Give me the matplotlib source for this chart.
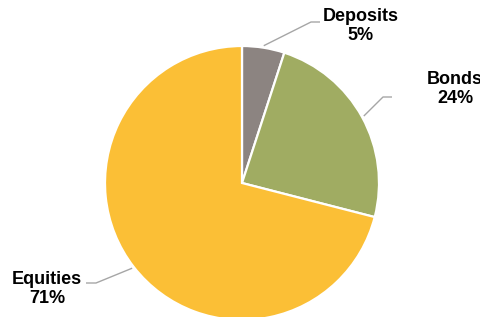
import numpy as np
from matplotlib import pyplot

categories = ['Deposits', 'Bonds', 'Equities']
shares = [5, 24, 71]
colors = ['#8C8481', '#A0AC62', '#FBBF36']

W, H = 480, 317
CENTER = (242, 134)
RADIUS = 137

# elbow point, end of leader line, label centre (pixels, y up)
LEADERS = {
    'Deposits': ((311, 295), (320, 295), (361, 291)),
    'Bonds': ((383, 220), (392, 220), (455, 228)),
    'Equities': ((96, 34), (86, 34), (47, 28)),
}


def main():
    fig = pyplot.figure(figsize=(W / 100, H / 100), dpi=100)
    ax = fig.add_axes([0, 0, 1, 1])

    wedges, _ = ax.pie(
        shares, colors=colors, startangle=90, counterclock=False,
        center=CENTER, radius=RADIUS, frame=True,
        wedgeprops=dict(edgecolor='white', linewidth=1.6),
    )
    ax.set_xlim(0, W)
    ax.set_ylim(0, H)
    ax.axis('off')

    for wedge, name, share in zip(wedges, categories, shares):
        mid = np.deg2rad((wedge.theta1 + wedge.theta2) / 2)
        start = (CENTER[0] + (RADIUS + 2) * np.cos(mid),
                 CENTER[1] + (RADIUS + 2) * np.sin(mid))
        elbow, end, text_pos = LEADERS[name]
        ax.plot([start[0], elbow[0], end[0]], [start[1], elbow[1], end[1]],
                color='#A6A6A6', lw=1.0, solid_capstyle='butt')
        ax.text(text_pos[0], text_pos[1], f'{name}\n{share}%',
                ha='center', va='center', fontsize=13, fontweight='bold',
                family='Liberation Sans', linespacing=1.12, color='black')

    fig.savefig('out.png', dpi=100)


if __name__ == '__main__':
    main()
